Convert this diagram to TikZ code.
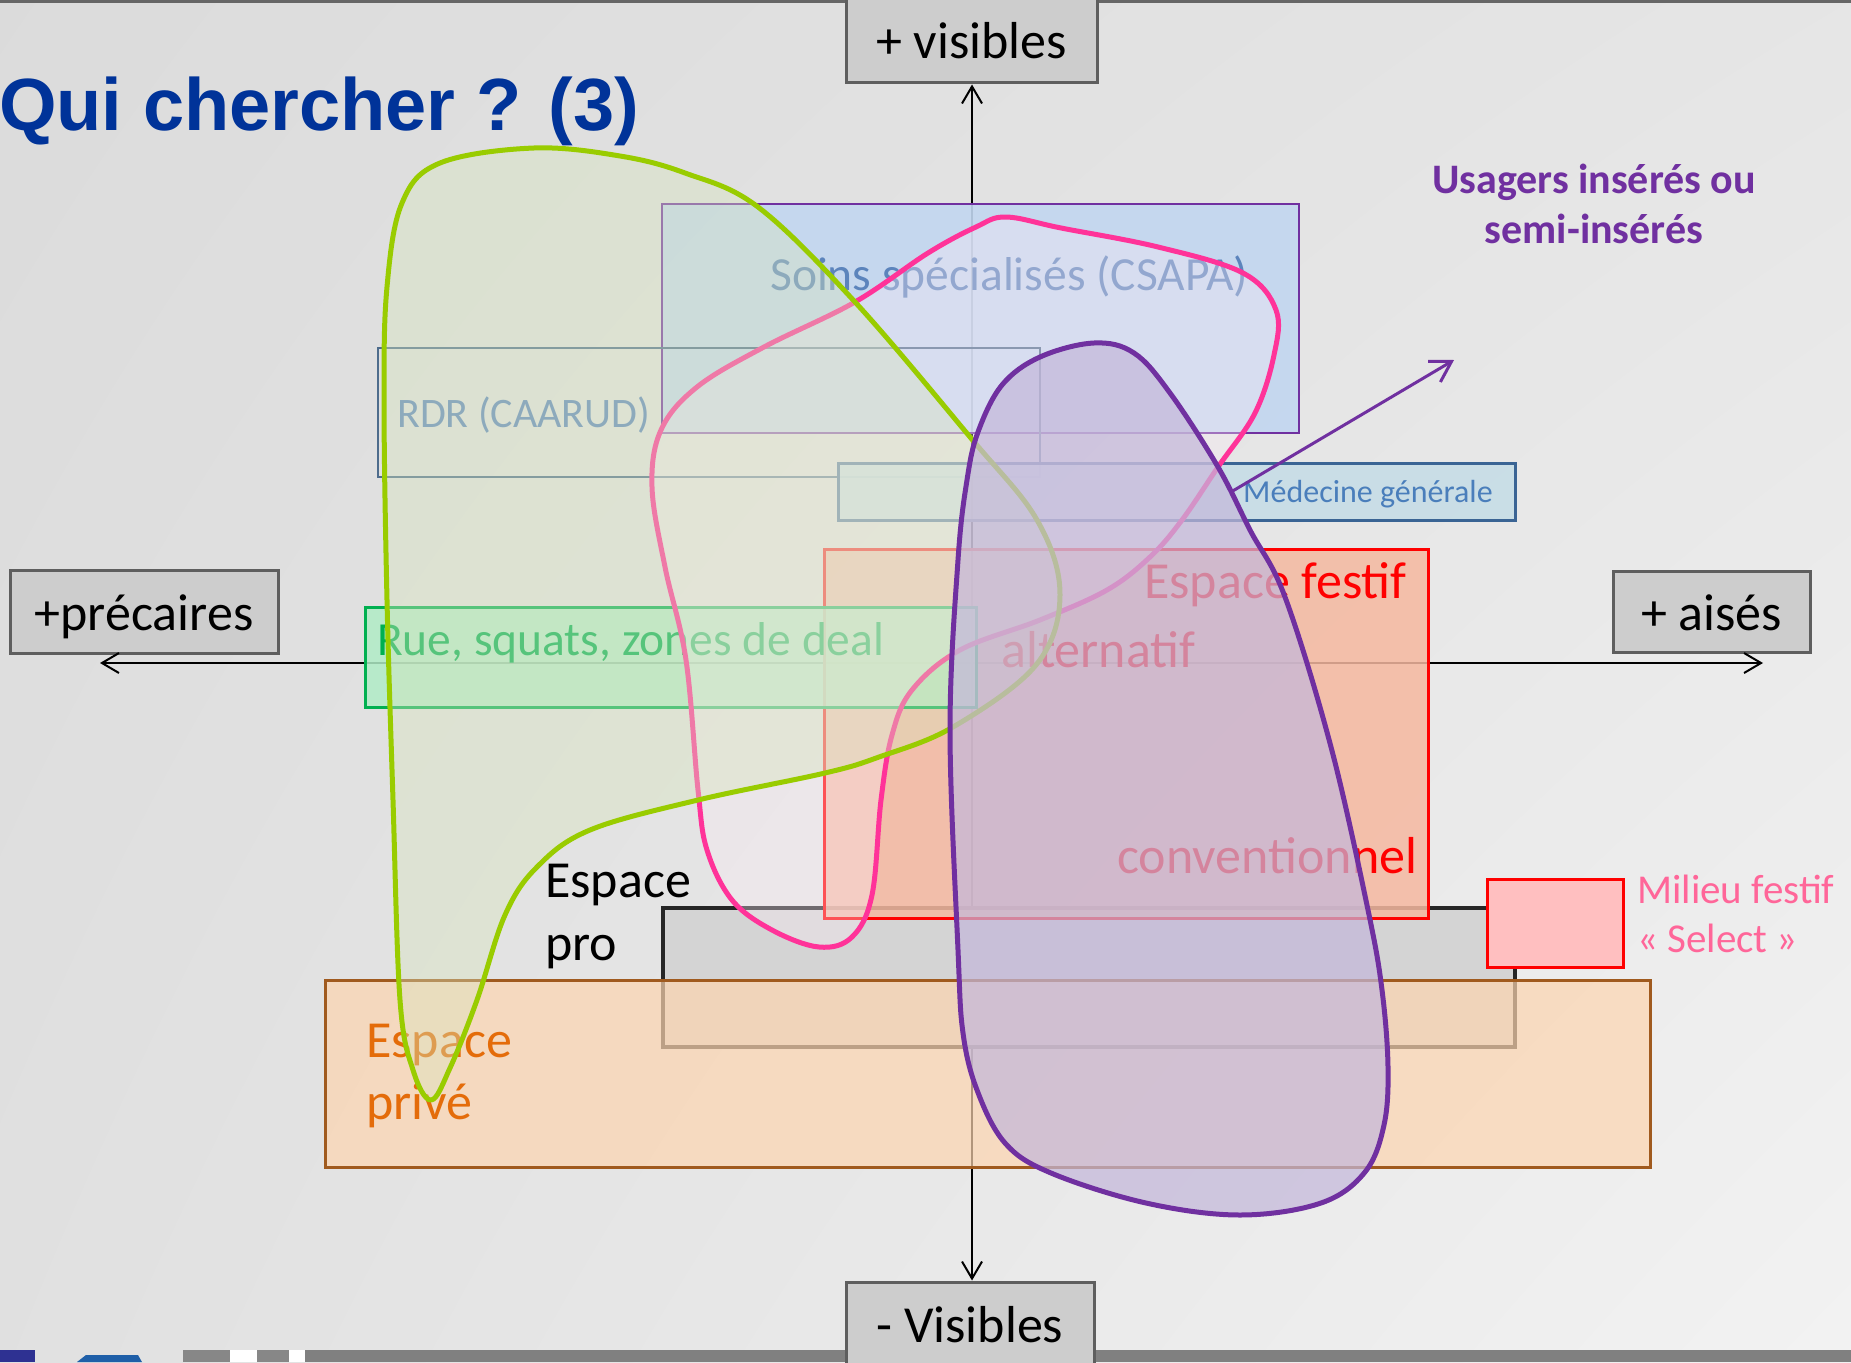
\documentclass[tikz,border=0pt]{standalone}
\usepackage{fontspec}
\setmainfont{Carlito}
\newfontfamily\titlefont{Liberation Sans}
\usetikzlibrary{arrows.meta,shadings}

\definecolor{titleblue}{HTML}{003399}
\definecolor{boxfill}{HTML}{CDCDCD}
\definecolor{boxborder}{HTML}{5E5E5E}
\definecolor{soinsfill}{HTML}{C2D6F0}
\definecolor{soinstext}{HTML}{5C84BC}
\definecolor{rdrborder}{HTML}{4E6C8C}
\definecolor{medfill}{HTML}{C6DDE6}
\definecolor{medborder}{HTML}{3A6494}
\definecolor{medtext}{HTML}{4A7EBB}
\definecolor{festiffill}{HTML}{F5B8A0}
\definecolor{ruefill}{HTML}{B0ECC6}
\definecolor{ruegreen}{HTML}{00B050}
\definecolor{profill}{HTML}{D4D4D4}
\definecolor{privefill}{HTML}{FDD5B0}
\definecolor{priveborder}{HTML}{A05A1E}
\definecolor{priveorange}{HTML}{E46C0A}
\definecolor{selectfill}{HTML}{FFBFC0}
\definecolor{selectpink}{HTML}{FF6699}
\definecolor{usagers}{HTML}{7030A0}
\definecolor{lime}{HTML}{99CC00}
\definecolor{limefill}{HTML}{D7E4BD}
\definecolor{rose}{HTML}{FF3399}
\definecolor{rosefill}{HTML}{FAEBF5}
\definecolor{lilacfill}{HTML}{C4B8DA}
\definecolor{navy}{HTML}{2E3192}
\definecolor{logoblue}{HTML}{1F5FA8}

\begin{document}
\begin{tikzpicture}[x=1pt, y=-1pt,
  axisbox/.style={draw=boxborder, fill=boxfill, line width=3pt, inner sep=0,
    text height=37pt, text depth=0pt, font=\fontsize{52}{62}\selectfont},
  axisline/.style={line width=2pt, -{Straight Barb[length=17pt,width=20pt]}},
  zone/.style={anchor=north west, inner sep=0, outer sep=0},
  txt/.style={anchor=base west, inner sep=0, align=left},
  blob/.style={line width=5pt, line join=round},
  big/.style={font=\fontsize{52}{62}\selectfont},
]
\useasboundingbox (0,0) rectangle (1851,1362);

% background
\shade[upper left=black!14, upper right=black!10, lower left=black!12, lower right=black!5]
  (0,0) rectangle (1851,1362);
\draw[line width=3pt, black!60] (0,1.5) -- (1851,1.5);

% bottom bar
\fill[black!50] (305,1350) rectangle (1851,1362);
\fill[black!47] (183,1350) rectangle (230,1362);
\fill[white] (230,1350) rectangle (257,1362);
\fill[black!47] (257,1350) rectangle (289,1362);
\fill[white] (289,1350) rectangle (305,1362);
\fill[navy] (0,1350) rectangle (35,1362);
\fill[logoblue] (77,1362) -- (86,1355) -- (138,1355) -- (142,1362) -- cycle;

% title
\node[txt, font=\titlefont\bfseries\fontsize{74}{88}\selectfont, text=titleblue] (title) at (-1,130) {Qui chercher ? (3)};

% axes
\node[axisbox, minimum width=251pt, minimum height=86pt] (vis) at (971.5,40) {+ visibles};
\node[axisbox, minimum width=248pt, minimum height=83pt] (nvis) at (970,1323.5) {- Visibles};
\node[axisbox, minimum width=268pt, minimum height=83pt] (prec) at (144,611.5) {+précaires};
\node[axisbox, minimum width=197pt, minimum height=81pt] (ais) at (1711.5,611.5) {+ aisés};

\coordinate (o) at (972,663);
\coordinate (west) at (100,663);
\coordinate (east) at (1763,663);
\draw[axisline] (o) -- (o |- vis.south);
\draw[axisline] (o) -- (o |- nvis.north);
\draw[axisline] (o) -- (west);
\draw[axisline] (o) -- (east);

% zones
\node[zone, draw=black!85, line width=4pt, fill=profill, minimum width=852pt, minimum height=139pt] (pro) at (663,908) {};
\node[zone, draw=priveborder, line width=3pt, fill=privefill, fill opacity=.7, minimum width=1325pt, minimum height=187pt] (prive) at (325,980) {};
\node[txt, font=\fontsize{52}{62}\selectfont, text=priveorange] (prive-t) at (366,1119) {Espace\\privé};
\node[txt, font=\fontsize{52}{63}\selectfont] (pro-t) at (545,960) {Espace\\pro};

\node[zone, draw=usagers, line width=2pt, fill=soinsfill, fill opacity=.9, minimum width=637pt, minimum height=229pt] (csapa) at (662,204) {};
\node[txt, font=\fontsize{47.5}{57}\selectfont, text=soinstext] (csapa-t) at (770,290) {Soins spécialisés (CSAPA)};

\node[zone, draw=rdrborder, line width=2.5pt, minimum width=662pt, minimum height=129pt] (rdr) at (378,348) {};
\node[txt, font=\fontsize{42}{50}\selectfont, text=soinstext] (rdr-t) at (397,427) {RDR (CAARUD)};

\node[zone, draw=medborder, line width=3pt, fill=medfill, fill opacity=.9, minimum width=677pt, minimum height=57pt] (med) at (838,463) {};
\node[txt, font=\fontsize{32}{38}\selectfont, text=medtext] (med-t) at (1243,502) {Médecine générale};

\node[zone, draw=red, line width=3pt, fill=festiffill, fill opacity=.85, minimum width=604pt, minimum height=369pt] (festif) at (824,549) {};
\node[txt, big, text=red] (festif-t) at (1144,598) {Espace festif};
\node[txt, big, text=red] (alt-t) at (1001,667) {alternatif};
\node[txt, big, text=red] (conv-t) at (1117,873) {conventionnel};

\node[zone, draw=red, line width=3pt, fill=selectfill, minimum width=136pt, minimum height=88pt] (select) at (1487,879) {};
\node[txt, font=\fontsize{41}{49}\selectfont, text=selectpink] (select-t) at (1637,952) {Milieu festif\\«~Select~»};

\node[zone, draw=ruegreen, line width=3pt, fill=ruefill, fill opacity=.85, minimum width=611pt, minimum height=100pt] (rue) at (365,607) {};
\node[txt, font=\fontsize{47.5}{57}\selectfont, text=ruegreen] (rue-t) at (377,655) {Rue, squats, zones de deal};

% publics
\draw[blob, draw=rose, fill=rosefill, fill opacity=.35] plot[smooth cycle, tension=.6] coordinates {
  (1006,217) (1061,228) (1158,247) (1243,273) (1276,310) (1274,355) (1255,413)
  (1218,467) (1182,520) (1150,557) (1107,590) (1040,620) (960,650) (912,690)
  (892,735) (881,800) (872,895) (852,937) (819,947) (772,930) (732,900) (707,850)
  (698,790) (686,660) (665,567) (652,487) (661,430) (697,387) (764,347) (855,302)
  (928,253) (976,227)};

\draw[blob, draw=lime, fill=limefill, fill opacity=.4] plot[smooth cycle, tension=.6] coordinates {
  (431,1100) (413,1070) (400,1000) (393,800) (387,600) (384,400) (387,287) (402,203)
  (440,163) (534,148) (620,156) (685,173) (758,207) (855,302) (970,437) (1037,520)
  (1060,595) (1036,665) (953,727) (879,757) (825,773) (698,800) (590,830) (537,867)
  (505,915) (477,1000) (450,1068)};

\draw[blob, draw=usagers, fill=lilacfill, fill opacity=.72] plot[smooth cycle, tension=.6] coordinates {
  (1094,343) (1134,353) (1170,393) (1218,467) (1250,530) (1285,597) (1331,747)
  (1368,910) (1382,990) (1388,1067) (1384,1125) (1365,1172) (1321,1203) (1240,1215)
  (1146,1203) (1051,1173) (1005,1143) (977,1090) (963,1033) (958,950) (950,730)
  (958,560) (967,480) (978,432) (1002,385) (1040,357)};

\coordinate (pstart) at (1231,492);
\coordinate (ptip) at (1454,360);
\draw[line width=3pt, usagers, -{Straight Barb[length=20pt,width=24pt]}] (pstart) -- (ptip);

\node[anchor=base, inner sep=0, align=center, text=usagers, font=\bfseries\fontsize{42}{50}\selectfont] (usagers-t) at (1594,243) {Usagers insérés ou\\semi-insérés};

\end{tikzpicture}
\end{document}
